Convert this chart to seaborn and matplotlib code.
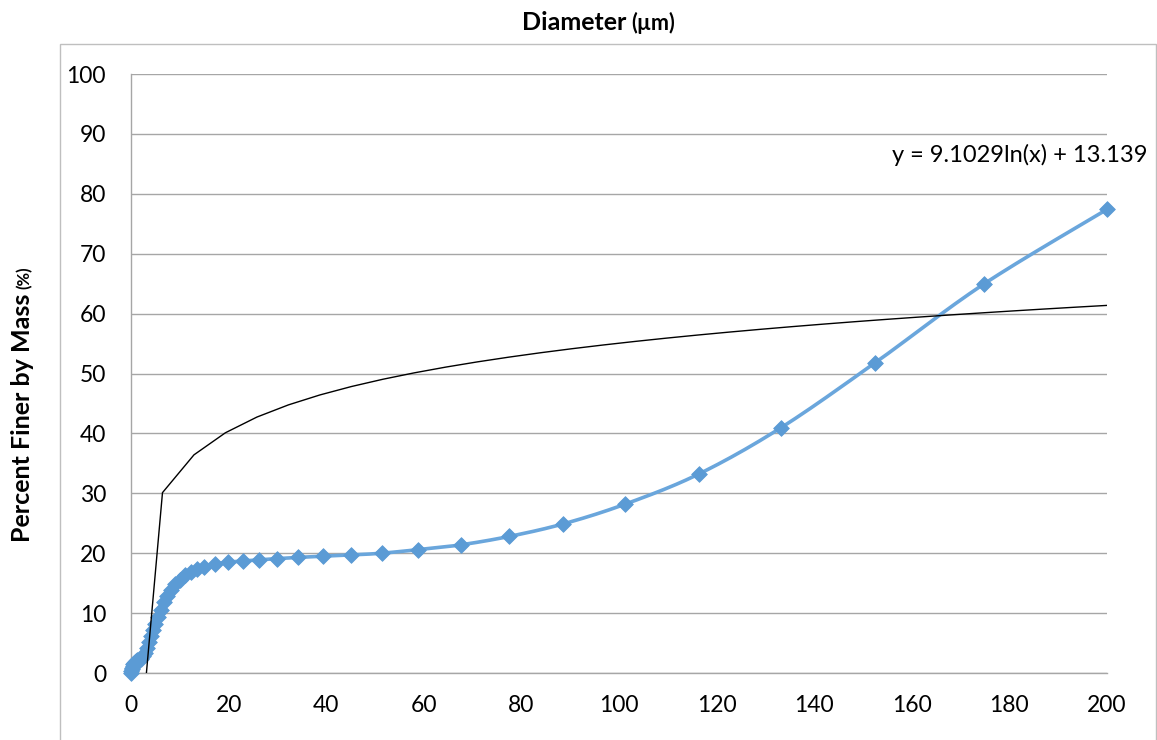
import numpy as np
import pandas as pd
import matplotlib
matplotlib.use("Agg")
import matplotlib.pyplot as plt
from matplotlib.patches import Rectangle
import seaborn as sns

# Particle size distribution (hydrometer + sieve), percent finer by mass
diameter_um = [0.0, 0.1, 0.2, 0.3, 0.4, 0.5, 0.6, 0.8, 1.0, 1.3, 1.6, 2.0, 2.4,
               2.8, 3.2, 3.6, 4.0, 4.5, 5.0, 5.5, 6.1, 6.7, 7.4, 8.2, 9.0, 10.0,
               11.0, 12.2, 13.5, 15.0, 17.3, 19.9, 22.9, 26.3, 30.0, 34.3, 39.3,
               45.0, 51.4, 58.9, 67.6, 77.5, 88.6, 101.3, 116.3, 133.1, 152.5,
               174.7, 200.0]
percent_finer = [0.0, 0.3, 0.6, 0.9, 1.2, 1.5, 1.7, 1.9, 2.0, 2.1, 2.2, 2.4, 2.8,
                 3.4, 4.2, 5.1, 6.1, 7.1, 8.2, 9.4, 10.6, 11.8, 12.9, 13.9, 14.8,
                 15.6, 16.3, 16.9, 17.4, 17.7, 18.2, 18.5, 18.7, 18.9, 19.1, 19.3,
                 19.5, 19.7, 20.0, 20.6, 21.4, 22.8, 24.9, 28.2, 33.2, 40.9, 51.8,
                 64.9, 77.4]

# Logarithmic trendline coefficients
trend_a = 9.1029
trend_b = 13.139

x_ticks = list(range(0, 201, 20))
y_ticks = list(range(0, 101, 10))

BLUE = "#5b9bd5"
LINE_BLUE = "#6aa6dc"
GRID = "#a6a6a6"


def smooth_curve(x, y, n=24):
    """Catmull-Rom style smoothing (same idea as a spreadsheet 'smoothed line')."""
    pts = np.column_stack([x, y]).astype(float)
    out = []
    for i in range(len(pts) - 1):
        p0 = pts[i - 1] if i > 0 else pts[i]
        p1 = pts[i]
        p2 = pts[i + 1]
        p3 = pts[i + 2] if i + 2 < len(pts) else pts[i + 1]
        c1 = p1 + (p2 - p0) / 6.0
        c2 = p2 - (p3 - p1) / 6.0
        t = np.linspace(0, 1, n, endpoint=False)[:, None]
        seg = ((1 - t) ** 3) * p1 + 3 * ((1 - t) ** 2) * t * c1 + 3 * (1 - t) * t ** 2 * c2 + t ** 3 * p2
        out.append(seg)
    out.append(pts[-1:])
    out = np.vstack(out)
    return out[:, 0], out[:, 1]


sns.set_theme(style="white")
plt.rcParams["font.family"] = ["Lato", "DejaVu Sans"]

W, H, DPI = 1157, 740, 100
fig = plt.figure(figsize=(W / DPI, H / DPI), dpi=DPI)
fig.patch.set_facecolor("white")

# chart-area frame
fig.add_artist(Rectangle((60 / W, -0.05), (1156 - 60) / W, 1 - 44 / H + 0.05,
                         transform=fig.transFigure, fill=False,
                         edgecolor="#bfbfbf", linewidth=1.0))

ax = fig.add_axes([131 / W, 1 - 673 / H, (1107 - 131) / W, (673 - 74) / H])
ax.set_facecolor("none")

df = pd.DataFrame({"d": diameter_um, "p": percent_finer})
sx, sy = smooth_curve(df["d"].values, df["p"].values)
smooth_df = pd.DataFrame({"d": sx, "p": sy})

# trendline sampled along the axis (as spreadsheet trendlines are)
trend_x = np.linspace(0, 200, 32)
trend_x[0] = 0.01
trend_df = pd.DataFrame({"d": trend_x, "p": trend_a * np.log(trend_x) + trend_b})

sns.lineplot(data=smooth_df, x="d", y="p", ax=ax, color=LINE_BLUE, linewidth=2.6,
             sort=False, estimator=None, zorder=3)
sns.scatterplot(data=df, x="d", y="p", ax=ax, marker="D", s=64, color=BLUE,
                edgecolor=BLUE, linewidth=0.6, zorder=4, clip_on=False)
sns.lineplot(data=trend_df, x="d", y="p", ax=ax, color="black", linewidth=1.0,
             sort=False, estimator=None, zorder=5)

ax.set_xlim(0, 200)
ax.set_ylim(0, 100)
ax.set_xticks(x_ticks)
ax.set_yticks(y_ticks)
ax.set_xticklabels([str(v) for v in x_ticks])
ax.set_yticklabels([str(v) for v in y_ticks])
ax.set_xlabel("")
ax.set_ylabel("")

ax.grid(axis="y", color=GRID, linewidth=1.0)
ax.grid(axis="x", visible=False)
ax.set_axisbelow(True)
for side in ["top", "right"]:
    ax.spines[side].set_visible(False)
for side in ["left", "bottom"]:
    ax.spines[side].set_visible(True)
    ax.spines[side].set_color(GRID)
    ax.spines[side].set_linewidth(1.0)

ax.tick_params(axis="both", which="major", direction="out", length=6,
               width=1.0, color=GRID, labelsize=16.5, labelcolor="black")
ax.tick_params(axis="x", pad=10)
ax.tick_params(axis="y", pad=12)

# equation of the trendline
ax.text(1147 / W, 1 - 155 / H, f"y = {trend_a}ln(x) + {trend_b}",
        transform=fig.transFigure, ha="right", va="center", fontsize=17,
        color="black")

# top title: "Diameter (µm)"
fig.text(626 / W, 1 - 30 / H, "Diameter", ha="right", va="baseline",
         fontsize=18, fontweight="bold", color="black")
fig.text(631 / W, 1 - 30 / H, "(µm)", ha="left", va="baseline",
         fontsize=15.5, fontweight="bold", color="black")

# y label: "Percent Finer by Mass (%)"
fig.text(30 / W, 1 - 542 / H, "Percent Finer by Mass", rotation=90,
         rotation_mode="anchor", ha="left", va="baseline",
         fontsize=18, fontweight="bold", color="black")
fig.text(30 / W, 1 - 289 / H, "(%)", rotation=90, rotation_mode="anchor",
         ha="left", va="baseline", fontsize=12, fontweight="bold", color="black")

fig.savefig("out.png", dpi=DPI, facecolor="white")
